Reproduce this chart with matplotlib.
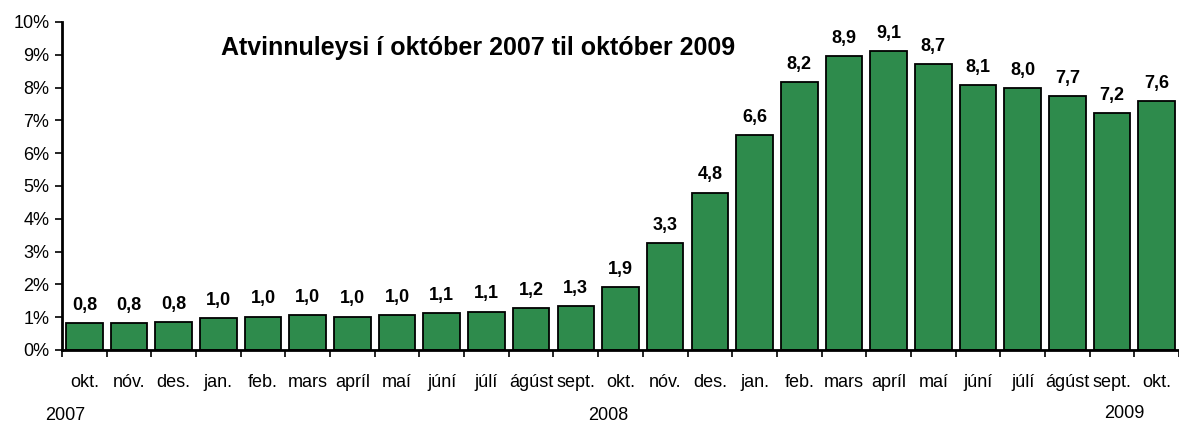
import matplotlib
matplotlib.use("Agg")
import matplotlib.pyplot as plt
import numpy as np

months = ["okt.", "nóv.", "des.", "jan.", "feb.", "mars", "apríl", "maí", "júní", "júlí",
          "ágúst", "sept.", "okt.", "nóv.", "des.", "jan.", "feb.", "mars", "apríl", "maí",
          "júní", "júlí", "ágúst", "sept.", "okt."]
values = [0.81, 0.81, 0.85, 0.97, 1.02, 1.07, 1.02, 1.07, 1.12, 1.17,
          1.27, 1.34, 1.91, 3.26, 4.80, 6.55, 8.18, 8.96, 9.12, 8.71,
          8.08, 7.98, 7.75, 7.23, 7.60]
value_labels = ["0,8", "0,8", "0,8", "1,0", "1,0", "1,0", "1,0", "1,0", "1,1", "1,1",
                "1,2", "1,3", "1,9", "3,3", "4,8", "6,6", "8,2", "8,9", "9,1", "8,7",
                "8,1", "8,0", "7,7", "7,2", "7,6"]
years = ["2007", "2008", "2009"]
title = "Atvinnuleysi í október 2007 til október 2009"

plt.rcParams['font.family'] = ['Liberation Sans', 'DejaVu Sans']

W, H = 1179, 425
fig = plt.figure(figsize=(W / 100, H / 100), dpi=100)
ax = fig.add_axes([62 / W, 1 - 350 / H, 1 - 62 / W, (350 - 22) / H])

x = np.arange(len(values))
ax.bar(x, values, width=0.82, color="#2e8b4c", edgecolor="black", linewidth=1.3, zorder=2)

for xi, v, lab in zip(x, values, value_labels):
    ax.text(xi, v + 0.28, lab, ha="center", va="bottom", fontsize=13, fontweight="bold")

ax.set_xlim(-0.5, len(values) - 0.5)
ax.set_ylim(0, 10)
ax.set_yticks(np.arange(0, 11, 1))
ax.set_yticklabels([f"{i}%" for i in range(11)], fontsize=13)
ax.set_xticks(x)
ax.set_xticklabels(months, fontsize=13)
ax.set_xticks(np.arange(-0.5, len(values), 1), minor=True)
ax.tick_params(axis="x", which="major", length=0, pad=17)
ax.tick_params(axis="x", which="minor", length=5, width=1.2, direction="out")
ax.tick_params(axis="y", length=5, width=1.2, direction="out", pad=4)

for s in ["top", "right"]:
    ax.spines[s].set_visible(False)
for s in ["left", "bottom"]:
    ax.spines[s].set_linewidth(2)
    ax.spines[s].set_zorder(3)

ax.text(478 / W, 1 - 48 / H, title, transform=fig.transFigure, ha="center", va="center",
        fontsize=18, fontweight="bold")

year_pos = [(65, 415), (608, 416), (1124, 414)]
for yr, (px, py) in zip(years, year_pos):
    fig.text(px / W, 1 - py / H, yr, ha="center", va="center", fontsize=13)

fig.savefig("out.png", dpi=100)
